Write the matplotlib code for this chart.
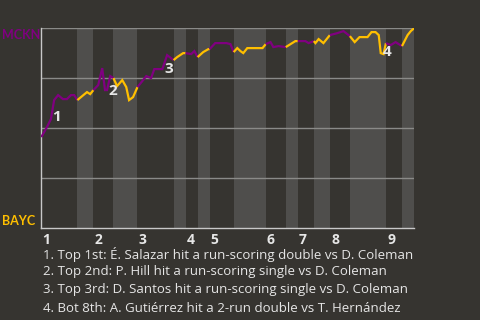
import matplotlib
matplotlib.use("Agg")
import matplotlib.pyplot as plt

plt.rcParams['font.family'] = ['Open Sans', 'DejaVu Sans']

# ---- data ----
away_team = "MCKN"
home_team = "BAYC"
# play index where each half-inning begins (last = end of game)
half_inning_edges = [0, 9, 13, 18, 24, 33, 36, 39, 42, 48, 56, 61, 64, 68, 72, 77, 86, 90, 93]
inning_labels = ["1", "2", "3", "4", "5", "6", "7", "8", "9"]
# MCKN win probability (%) after each play
play_x = [0, 1.4, 2.4, 3.2, 4.2, 5.4, 6.4, 7.4, 8.2, 9,
          11.4, 12.2, 13,
          14.2, 15.2, 15.9, 16.4, 17.2, 18,
          18.9, 20.2, 21.2, 21.9, 22.9, 24,
          26.2, 27.4, 28.2, 30.2, 31.4, 33,
          33.9, 35.4, 36,
          37.4, 38.2, 39,
          40.4, 41.7, 42,
          43.4, 45.4, 46.2, 47.2, 48,
          48.9, 49.7, 50.4, 51.4, 55.2, 56,
          57.2, 57.9, 59.2, 61,
          63.4, 64,
          65.9, 66.7, 68,
          68.4, 69.2, 70.4, 72,
          73.9, 75.4, 77,
          78.2, 79.4, 81.4, 82.4, 83.4, 84.2, 84.7, 85.4, 86,
          87.2, 88.4, 90,
          91.4, 92.2, 93]
win_prob = [45.6, 50.6, 54.6, 64.1, 66.6, 64.6, 64.6, 66.6, 66.6, 64.1,
            68.1, 67.1, 69.1,
            71.6, 80.1, 69.1, 69.1, 76.1, 75.1,
            71.1, 74.1, 70.6, 64.1, 65.6, 70.6,
            76.1, 75.1, 79.6, 79.6, 86.6, 84.1,
            85.6, 87.6, 87.6,
            87.1, 88.6, 85.6,
            88.1, 89.6, 89.6,
            92.6, 92.6, 92.6, 92.1, 88.1,
            90.1, 88.6, 87.6, 90.1, 90.1, 92.1,
            93.1, 90.6, 91.1, 90.6,
            93.6, 93.6,
            93.6, 92.6, 93.6,
            92.6, 94.6, 92.6, 96.6,
            97.6, 98.6, 96.1,
            93.1, 95.6, 95.6, 98.1, 98.1, 96.6, 87.6, 87.1, 92.6,
            91.6, 93.1, 91.1,
            96.6, 98.6, 100.0]
event_labels = ["1", "2", "3", "4"]
event_descriptions = [
    "1. Top 1st: \u00c9. Salazar hit a run-scoring double vs D. Coleman",
    "2. Top 2nd: P. Hill hit a run-scoring single vs D. Coleman",
    "3. Top 3rd: D. Santos hit a run-scoring single vs D. Coleman",
    "4. Bot 8th: A. Guti\u00e9rrez hit a 2-run double vs T. Hern\u00e1ndez",
]
# label anchor positions (play index, win prob)
event_label_pos = [(3.9, 55.6), (17.9, 68.6), (31.9, 79.6), (86.2, 88.1)]

# ---- style ----
BG = "#363430"
BAND = "#4f4e4c"
GRID = "#8a8a88"
AXIS = "#c8c8c8"
TEXT = "#e6e6e6"
AWAY_C = "#800080"
HOME_C = "#ffbf00"

fig = plt.figure(figsize=(4.8, 3.2), dpi=100, facecolor=BG)
ax = fig.add_axes([41.3 / 480, 1 - 228.3 / 320, (414 - 41.3) / 480, 200 / 320])
ax.set_facecolor(BG)
ax.set_xlim(half_inning_edges[0], half_inning_edges[-1])
ax.set_ylim(0, 100)

# bands for bottom halves
for i in range(len(half_inning_edges) - 1):
    if i % 2 == 1:
        ax.axvspan(half_inning_edges[i], half_inning_edges[i + 1], color=BAND, lw=0, zorder=0)

for g in [25, 50, 75, 100]:
    ax.axhline(g, color=GRID, lw=1.0, zorder=1)

# line segments coloured by half-inning
for i in range(len(half_inning_edges) - 1):
    a, b = half_inning_edges[i], half_inning_edges[i + 1]
    xs = [x for x in play_x if a <= x <= b]
    ys = [y for x, y in zip(play_x, win_prob) if a <= x <= b]
    ax.plot(xs, ys, color=AWAY_C if i % 2 == 0 else HOME_C, lw=1.6,
            solid_joinstyle='miter', solid_capstyle='butt', zorder=3)

for lab, (x, y) in zip(event_labels, event_label_pos):
    ax.text(x, y, lab, color=TEXT, fontsize=11, fontweight='bold',
            ha='center', va='center', zorder=4)

for s in ['top', 'right']:
    ax.spines[s].set_visible(False)
for s in ['left', 'bottom']:
    ax.spines[s].set_color(AXIS)
    ax.spines[s].set_linewidth(1.0)
ax.set_xticks([])
ax.set_yticks([])

for lab, x in zip(inning_labels, half_inning_edges[0::2]):
    ax.text(x + 0.3, -2.5, lab, color=TEXT, fontsize=10, fontweight='bold',
            ha='left', va='top', transform=ax.transData)

fig.text(2 / 480, 1 - 35 / 320, away_team, color=AWAY_C, fontsize=9,
         fontweight='bold', family=['Lato', 'DejaVu Sans'], ha='left', va='center')
fig.text(2 / 480, 1 - 221 / 320, home_team, color=HOME_C, fontsize=9,
         fontweight='bold', family=['Lato', 'DejaVu Sans'], ha='left', va='center')

for k, line in enumerate(event_descriptions):
    fig.text(43 / 480, 1 - (254 + 18 * k) / 320, line, color=TEXT,
             fontsize=9.5, ha='left', va='center')

fig.savefig("out.png", dpi=100, facecolor=BG)
